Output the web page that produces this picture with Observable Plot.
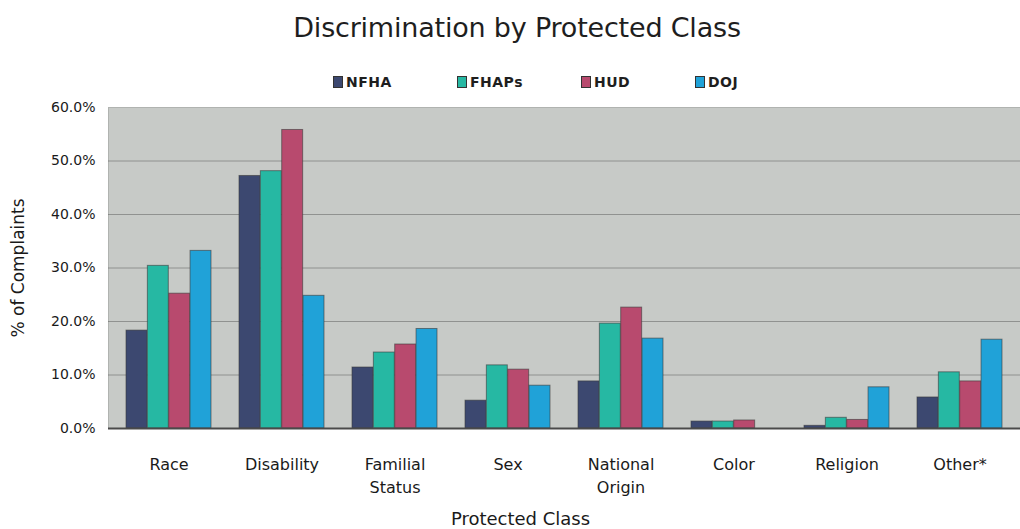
<!DOCTYPE html>
<html><head><meta charset="utf-8">
<script src="https://cdn.jsdelivr.net/npm/d3@7"></script>
<script src="https://cdn.jsdelivr.net/npm/@observablehq/plot@0.6"></script>
<style>
body{margin:0;background:#fff;font-family:"DejaVu Sans",sans-serif;}
#wrap{position:relative;width:1020px;height:529px;overflow:hidden;background:#fff}
#title{position:absolute;top:12px;left:0;width:1034px;text-align:center;font-size:27px;color:#1e1e1e;letter-spacing:-0.2px}
.li{position:absolute;top:74px;font-size:14px;font-weight:bold;color:#1e1e1e;line-height:16px;white-space:nowrap;letter-spacing:0.5px}
.sw{display:inline-block;width:8px;height:10px;margin-right:3px;vertical-align:-1px;border:1px solid #333}
#chart{position:absolute;top:100px;left:0}
</style></head>
<body><div id="wrap">
<div id="title">Discrimination by Protected Class</div>
<div id="legend"></div>
<div id="chart"></div>
</div>
<script>
const categories = ["Race","Disability","Familial Status","Sex","National Origin","Color","Religion","Other*"];
const tickLabels = ["Race","Disability","Familial\nStatus","Sex","National\nOrigin","Color","Religion","Other*"];
const series = ["NFHA","FHAPs","HUD","DOJ"];
const colors = ["#3c4870","#26b8a3","#b84a6e","#20a2d8"];
const NFHA  = [18.3, 47.2, 11.4, 5.2, 8.8, 1.3, 0.5, 5.8];
const FHAPs = [30.4, 48.1, 14.2, 11.8, 19.6, 1.3, 2.0, 10.5];
const HUD   = [25.2, 55.8, 15.7, 11.0, 22.6, 1.5, 1.6, 8.8];
const DOJ   = [33.2, 24.8, 18.6, 8.0, 16.8, 0.0, 7.7, 16.6];
const yTicks = [0,10,20,30,40,50,60];
const gridValues = [10,20,30,40,50];

const valuesBySeries = {NFHA, FHAPs, HUD, DOJ};

const legendX = [333,457,581,695];
const legend = document.getElementById("legend");
series.forEach((s,i)=>{
  const d=document.createElement("div");
  d.className="li"; d.style.left=legendX[i]+"px";
  d.innerHTML=`<span class="sw" style="background:${colors[i]}"></span>${s}`;
  legend.appendChild(d);
});

const labelMap = Object.fromEntries(categories.map((c,i)=>[c,tickLabels[i]]));

const W = 1020, ML = 108, MR = 0, PI = 0.25, PO = 0.13;
const step = (W - ML - MR) / (categories.length - PI + 2 * PO);
const sub = step * (1 - PI) / series.length;

const barMarks = series.map((s, i) => Plot.barY(
  categories.map((c, j) => ({category: c, series: s, value: valuesBySeries[s][j]})),
  {x: "category", y: "value", fill: "series", stroke: "#3a3a3a", strokeWidth: 1, strokeOpacity: 0.6,
   insetLeft: i * sub, insetRight: (series.length - 1 - i) * sub}
));

const chart = Plot.plot({
  width: W,
  height: 429,
  marginTop: 7,
  marginBottom: 101,
  marginLeft: ML,
  marginRight: MR,
  style: {fontFamily: "DejaVu Sans, sans-serif", color: "#1a1a1a"},
  x: {domain: categories, paddingInner: PI, paddingOuter: PO, axis: null},
  y: {domain: [0,60], axis: null},
  color: {domain: series, range: colors},
  marks: [
    Plot.frame({fill: "#c7cac7", stroke: "#b0b3b0"}),
    Plot.ruleY(gridValues, {stroke: "#6a6d6a", strokeWidth: 1, strokeOpacity: 0.6}),
    ...barMarks,
    Plot.ruleY([0], {stroke: "#4a4a4a", strokeWidth: 2}),
    Plot.axisY(yTicks, {anchor: "left", tickSize: 0, tickPadding: 13, fontSize: 14, tickFormat: d => d.toFixed(1) + "%", label: null}),
    Plot.axisX({anchor: "bottom", tickSize: 0, tickPadding: 25, fontSize: 16, lineHeight: 1.45, tickFormat: d => labelMap[d], label: null}),
    Plot.text(["Protected Class"], {frameAnchor: "bottom", dx: -44, dy: 96, fontSize: 18}),
    Plot.text(["% of Complaints"], {frameAnchor: "left", textAnchor: "middle", dx: -90, rotate: -90, fontSize: 17})
  ]
});
document.getElementById("chart").appendChild(chart);
</script>
</body></html>
